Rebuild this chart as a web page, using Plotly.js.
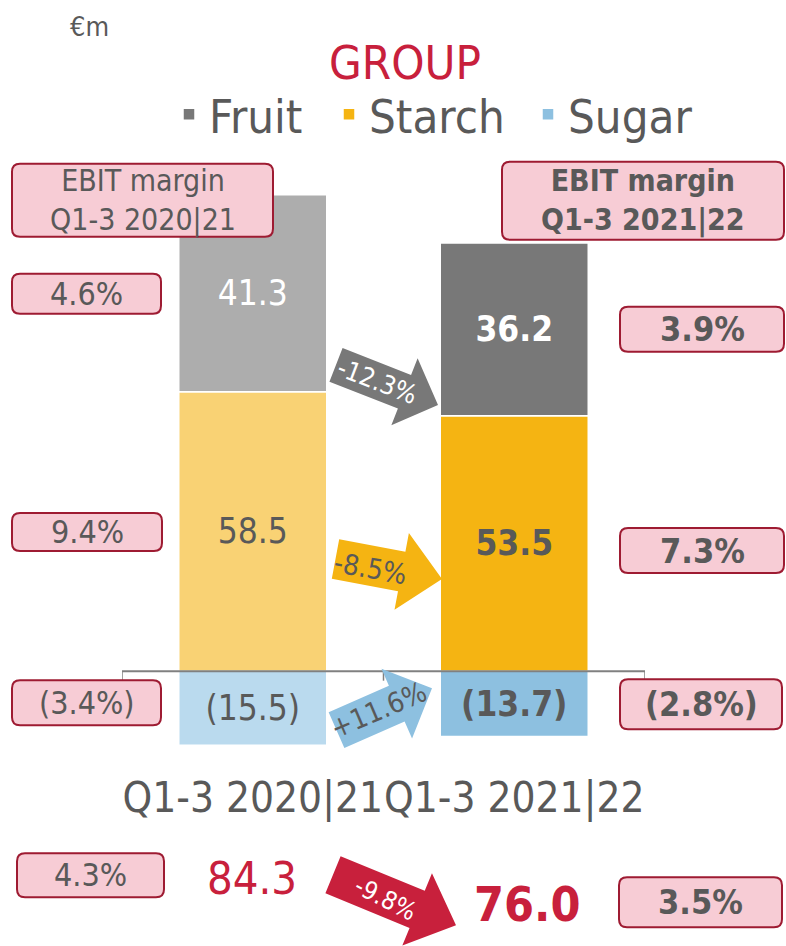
<!DOCTYPE html>
<html><head><meta charset="utf-8">
<script src="https://cdn.plot.ly/plotly-3.0.1.min.js"></script>
<style>html,body{margin:0;padding:0;background:#fff}</style>
</head><body><div id="chart" style="width:786px;height:946px"></div>
<script>
// ---------------- data ----------------
const periods = ['Q1-3 2020|21', 'Q1-3 2021|22'];
const segments = ['Sugar', 'Starch', 'Fruit'];        // stacking order (bottom to top)
const fruit = [41.3, 36.2];
const starch = [58.5, 53.5];
const sugar = [-15.5, -13.7];
const marginsPrev = {Fruit: '4.6%', Starch: '9.4%', Sugar: '(3.4%)'};
const marginsCur = {Fruit: '3.9%', Starch: '7.3%', Sugar: '(2.8%)'};
const changes = {Fruit: '-12.3%', Starch: '-8.5%', Sugar: '+11.6%'};
const groupMargins = ['4.3%', '3.5%'];
const groupChange = '-9.8%';
const values = {Fruit: fruit, Starch: starch, Sugar: sugar};

// ---------------- style ----------------
const FONT = '"DejaVu Sans Condensed", "DejaVu Sans", sans-serif';
const GREY = '#595959', CRIMSON = '#c8203c';
const colorsCur = {Fruit: '#787878', Starch: '#f5b412', Sugar: '#8dc0e0'};
const colorsPrev = {Fruit: '#adadad', Starch: '#f9d274', Sugar: '#badaee'};
const textColor = {Fruit: '#ffffff', Starch: GREY, Sugar: GREY};
const legendW = {Fruit: 115, Starch: 154, Sugar: 125};

const W = 786, H = 946, L = 122, R = 141;
const ZERO = 671, PPU = 4.77, YMAX = 110, YMIN = -20.5;
const T = ZERO - YMAX * PPU;
const B = H - (ZERO - YMIN * PPU);
const px2x = px => (px - L) / (W - L - R);
const px2y = py => (H - B - py) / (H - T - B);

const fmt = v => v < 0 ? '(' + Math.abs(v).toFixed(1) + ')' : v.toFixed(1);

// ---------------- traces ----------------
const traces = [];
segments.forEach(seg => {
  periods.forEach((p, i) => {
    const cur = i === periods.length - 1;
    const t = fmt(values[seg][i]);
    traces.push({
      type: 'bar', name: seg, x: [p], y: [values[seg][i]],
      width: 0.566,
      marker: {color: cur ? colorsCur[seg] : colorsPrev[seg], line: {color: '#ffffff', width: 1.5}},
      text: [cur ? '<b>' + t + '</b>' : t],
      textposition: 'inside', insidetextanchor: 'middle', textangle: 0,
      insidetextfont: {family: FONT, size: 35, color: textColor[seg]},
      showlegend: cur, legendwidth: legendW[seg], hoverinfo: 'skip'
    });
  });
});

// ---------------- decorations ----------------
const shapes = [];
const annotations = [];

// zero line and category boundary ticks
shapes.push({type: 'line', xref: 'x', yref: 'y', x0: -0.5, x1: periods.length - 0.5, y0: 0, y1: 0,
  line: {color: '#808080', width: 2}, layer: 'above'});
for (let i = 0; i <= periods.length; i++) {
  shapes.push({type: 'line', xref: 'x', yref: 'y', x0: i - 0.5, x1: i - 0.5, y0: 0, y1: -2,
    line: {color: '#808080', width: 1.5}, layer: 'above'});
}

function rrPath(x0, y0, x1, y1, r) {
  const P = (x, y) => px2x(x).toFixed(5) + ',' + px2y(y).toFixed(5);
  return 'M' + P(x0 + r, y0) + ' L' + P(x1 - r, y0) + ' Q' + P(x1, y0) + ' ' + P(x1, y0 + r) +
    ' L' + P(x1, y1 - r) + ' Q' + P(x1, y1) + ' ' + P(x1 - r, y1) +
    ' L' + P(x0 + r, y1) + ' Q' + P(x0, y1) + ' ' + P(x0, y1 - r) +
    ' L' + P(x0, y0 + r) + ' Q' + P(x0, y0) + ' ' + P(x0 + r, y0) + ' Z';
}
function box(x0, y0, x1, y1, text, bold, size) {
  shapes.push({type: 'path', xref: 'paper', yref: 'paper', path: rrPath(x0, y0, x1, y1, 8),
    fillcolor: '#f7ccd5', line: {color: '#9e1b32', width: 2}, layer: 'above'});
  annotations.push({xref: 'paper', yref: 'paper', x: px2x((x0 + x1) / 2), y: px2y((y0 + y1) / 2),
    text: bold ? '<b>' + text + '</b>' : text, showarrow: false, xanchor: 'center', yanchor: 'middle',
    font: {family: FONT, size: size, color: GREY}});
}
function arrow(tx, ty, hx, hy, sw, hw, hl, color, label, lx, ly, angle, lcolor, lsize) {
  const len = Math.hypot(hx - tx, hy - ty);
  const ux = (hx - tx) / len, uy = (hy - ty) / len;
  const nx = -uy, ny = ux;
  const bx = hx - ux * hl, by = hy - uy * hl;
  const pts = [[tx + nx * sw, ty + ny * sw], [bx + nx * sw, by + ny * sw], [bx + nx * hw, by + ny * hw],
    [hx, hy], [bx - nx * hw, by - ny * hw], [bx - nx * sw, by - ny * sw], [tx - nx * sw, ty - ny * sw]];
  const path = pts.map((p, i) => (i ? 'L' : 'M') + px2x(p[0]).toFixed(5) + ',' + px2y(p[1]).toFixed(5)).join(' ') + ' Z';
  shapes.push({type: 'path', xref: 'paper', yref: 'paper', path: path, fillcolor: color,
    line: {width: 0}, layer: 'above'});
  annotations.push({xref: 'paper', yref: 'paper', x: px2x(lx), y: px2y(ly), text: label, showarrow: false,
    textangle: angle, xanchor: 'center', yanchor: 'middle', font: {family: FONT, size: lsize, color: lcolor}});
}

// header boxes
box(12, 164, 273, 237, 'EBIT margin<br>' + periods[0], false, 30);
box(502, 162, 784, 240, 'EBIT margin<br>' + periods[1], true, 30);
// segment margin boxes
box(12, 274, 161, 314, marginsPrev.Fruit, false, 32);
box(12, 513, 162, 551, marginsPrev.Starch, false, 32);
box(12, 680, 161, 725, marginsPrev.Sugar, false, 32);
box(620, 307, 784, 352, marginsCur.Fruit, true, 34);
box(620, 528, 784, 573, marginsCur.Starch, true, 34);
box(620, 679, 782, 729, marginsCur.Sugar, true, 34);
// group margin boxes
box(17, 853, 164, 897, groupMargins[0], false, 32);
box(619, 877, 782, 927, groupMargins[1], true, 34);

// change arrows
arrow(336, 365, 438, 405, 18, 36, 36, colorsCur.Fruit, changes.Fruit, 377, 381, 21, '#ffffff', 26);
arrow(335.5, 559, 442, 579, 20, 39, 41, colorsCur.Starch, changes.Starch, 370, 568, 10, GREY, 28);
arrow(336.5, 730, 432, 688, 19.5, 38, 38.5, colorsCur.Sugar, changes.Sugar, 378, 710, -23, GREY, 28);
arrow(333, 874.5, 456, 925, 20, 39, 42, CRIMSON, groupChange, 385, 898, 27, '#ffffff', 25);

// group totals
const totals = periods.map((p, i) => fruit[i] + starch[i] + sugar[i]);
annotations.push({xref: 'paper', yref: 'paper', x: px2x(252), y: px2y(878), text: fmt(totals[0]),
  showarrow: false, xanchor: 'center', yanchor: 'middle', font: {family: FONT, size: 45, color: CRIMSON}});
annotations.push({xref: 'paper', yref: 'paper', x: px2x(527), y: px2y(904), text: '<b>' + fmt(totals[1]) + '</b>',
  showarrow: false, xanchor: 'center', yanchor: 'middle', font: {family: FONT, size: 48, color: CRIMSON}});

// unit
annotations.push({xref: 'paper', yref: 'paper', x: px2x(89), y: px2y(27), text: '€m', showarrow: false,
  xanchor: 'center', yanchor: 'middle', font: {family: FONT, size: 27, color: GREY}});

const layout = {
  width: W, height: H,
  margin: {l: L, r: R, t: T, b: B, pad: 0, autoexpand: false},
  paper_bgcolor: '#ffffff', plot_bgcolor: '#ffffff',
  barmode: 'relative', bargap: 0,
  title: {text: 'GROUP', font: {family: FONT, size: 47, color: CRIMSON},
    x: px2x(405), xanchor: 'center', y: 1 - 63 / H, yanchor: 'middle', xref: 'paper'},
  font: {family: FONT, color: GREY},
  showlegend: true,
  legend: {orientation: 'h', traceorder: 'reversed', xref: 'paper', yref: 'paper',
    x: px2x(698), xanchor: 'right', y: px2y(115), yanchor: 'middle',
    font: {family: FONT, size: 47, color: GREY},
    bgcolor: 'rgba(0,0,0,0)', itemclick: false, itemdoubleclick: false},
  xaxis: {type: 'category', categoryorder: 'array', categoryarray: periods, range: [-0.5, 1.5],
    showline: false, showgrid: false, zeroline: false, ticks: '', tickangle: 0, automargin: false,
    tickfont: {family: FONT, size: 42, color: GREY}, fixedrange: true},
  yaxis: {range: [YMIN, YMAX], showgrid: false, showticklabels: false, showline: false, ticks: '',
    zeroline: false, fixedrange: true},
  shapes: shapes, annotations: annotations
};

Plotly.newPlot('chart', traces, layout, {displayModeBar: false, staticPlot: true});
</script>
</body></html>
